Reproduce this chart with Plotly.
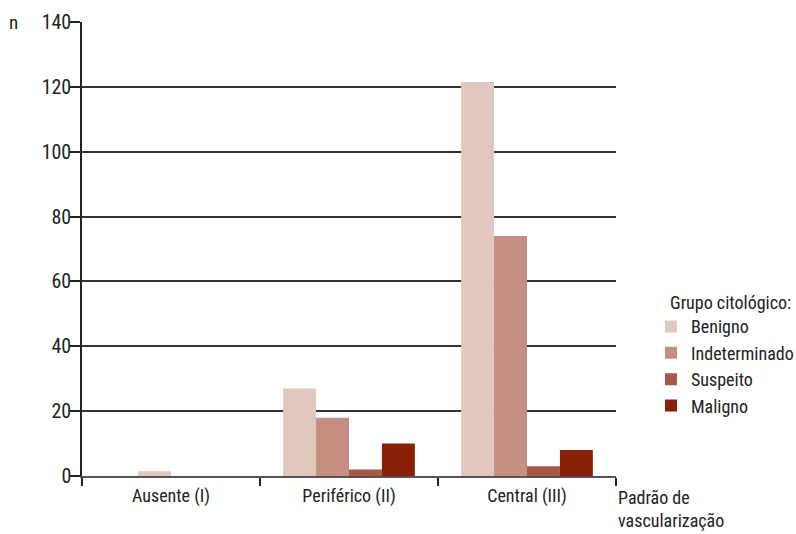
import plotly.graph_objects as go

categories = ["Ausente (I)", "Periférico (II)", "Central (III)"]
series_names = ["Benigno", "Indeterminado", "Suspeito", "Maligno"]
benigno = [1.5, 27, 121.5]
indeterminado = [None, 18, 74]
suspeito = [None, 2, 3]
maligno = [None, 10, 8]
y_ticks = [0, 20, 40, 60, 80, 100, 120, 140]
colors = ["#E2C7BF", "#C48E80", "#A85946", "#8B2008"]

FONT = "Liberation Sans Narrow, Arial Narrow, Roboto Condensed, Liberation Sans, sans-serif"
TXT = "#222222"

slot = 0.185
offsets = [
    [-slot, -2 * slot, -2 * slot],
    [-slot] * 3,
    [0.0] * 3,
    [slot] * 3,
]
values = [benigno, indeterminado, suspeito, maligno]

fig = go.Figure()
for name, vals, col, off in zip(series_names, values, colors, offsets):
    fig.add_trace(go.Bar(
        x=categories, y=vals, name=name,
        marker=dict(color=col, line=dict(width=0)),
        width=slot, offset=off,
    ))

fig.update_layout(
    width=796, height=534,
    margin=dict(l=82, r=180, t=22, b=58, autoexpand=False),
    paper_bgcolor="white", plot_bgcolor="white",
    barmode="overlay",
    font=dict(family=FONT, size=18, color=TXT),
    showlegend=True,
    legend=dict(
        x=1.0655, y=0.3696, xanchor="left", yanchor="top",
        font=dict(family=FONT, size=18, color=TXT),
        itemwidth=30, tracegroupgap=0, traceorder="normal",
        bgcolor="rgba(0,0,0,0)",
    ),
    xaxis=dict(
        type="category", range=[-0.5, 2.5],
        showline=True, linecolor="#555555", linewidth=1.5,
        ticks="outside", tickson="boundaries", ticklen=8, tickcolor="#222222", tickwidth=1.5,
        ticklabelstandoff=3,
        showgrid=False, tickfont=dict(family=FONT, size=18, color=TXT),
    ),
    yaxis=dict(
        range=[0, 140], tickvals=y_ticks,
        showline=True, linecolor="#222222", linewidth=1.5,
        ticks="outside", ticklen=10, tickcolor="#222222", tickwidth=1.5,
        ticklabelstandoff=-5,
        showgrid=True, gridcolor="#333333", gridwidth=1.5,
        zeroline=False,
        tickfont=dict(family=FONT, size=20, color=TXT),
    ),
    annotations=[
        dict(text="n", xref="paper", yref="paper", x=-0.14, y=1.0,
             xanchor="left", yanchor="middle", showarrow=False,
             font=dict(family=FONT, size=19, color=TXT)),
        dict(text="Padrão de<br>vascularização", xref="paper", yref="paper",
             x=1.0, y=-0.02, xanchor="left", yanchor="top", align="left",
             showarrow=False, font=dict(family=FONT, size=18, color=TXT)),
        dict(text="Grupo citológico:", xref="paper", yref="paper",
             x=1.097, y=0.383, xanchor="left", yanchor="middle",
             showarrow=False, font=dict(family=FONT, size=18, color=TXT)),
    ],
)

fig.write_html("out.html")
